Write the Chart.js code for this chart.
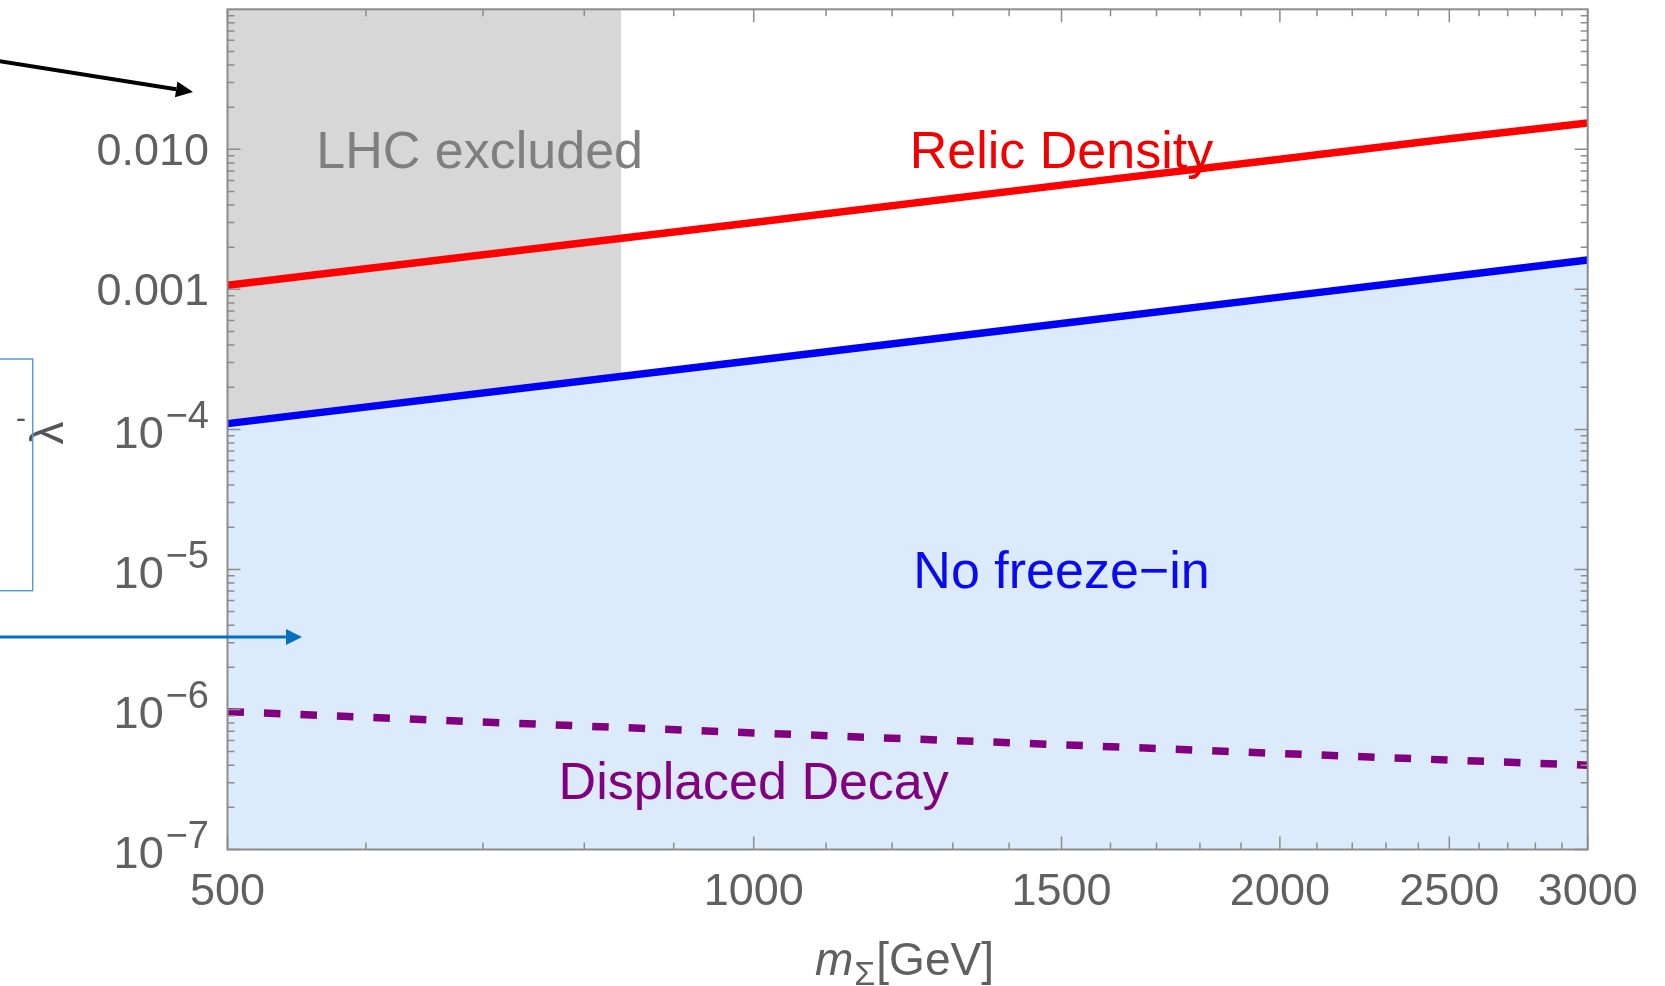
<!doctype html>
<html>
<head>
<meta charset="utf-8" />
<title>Freeze-in parameter space</title>
<script src="https://cdn.jsdelivr.net/npm/chart.js"></script>
<style>
  body { margin: 0; background: #fff; overflow: hidden; }
  #box { width: 1665px; height: 986px; }
</style>
</head>
<body>
<div id="box"><canvas id="plot"></canvas></div>
<script>
// masses in GeV and the coupling of each curve
const masses = [500, 1000, 1500, 2000, 2500, 3000];
const relicDensity = [1.07e-3, 3.0e-3, 5.55e-3, 8.5e-3, 1.19e-2, 1.54e-2];
const freezeInLimit = [1.1e-4, 3.1e-4, 5.7e-4, 8.8e-4, 1.23e-3, 1.62e-3];
const displacedDecay = [9.65e-7, 6.8e-7, 5.6e-7, 4.85e-7, 4.35e-7, 4.0e-7];
const lhcExcluded = [500, 840];

const xTicks = [500, 1000, 1500, 2000, 2500, 3000];
const yTicks = [1e-7, 1e-6, 1e-5, 1e-4, 1e-3, 1e-2];
const yTickLabels = ['10^−7', '10^−6', '10^−5', '10^−4', '0.001', '0.010'];

const FONT = '"Liberation Sans", Arial, sans-serif';
const pts = arr => masses.map((m, i) => ({ x: m, y: arr[i] }));

// Mathematica style frame: ticks inside on all four sides, labels outside
const frame = {
  id: 'frame',
  afterDatasetsDraw(chart) {
    const { ctx, chartArea: a, scales: { x, y } } = chart;
    ctx.save();
    ctx.strokeStyle = '#8c8c8c';
    ctx.lineWidth = 1.5;
    ctx.beginPath();
    const xt = (v, len) => {
      const p = x.getPixelForValue(v);
      ctx.moveTo(p, a.bottom); ctx.lineTo(p, a.bottom - len);
      ctx.moveTo(p, a.top); ctx.lineTo(p, a.top + len);
    };
    const yt = (v, len) => {
      const p = y.getPixelForValue(v);
      ctx.moveTo(a.left, p); ctx.lineTo(a.left + len, p);
      ctx.moveTo(a.right, p); ctx.lineTo(a.right - len, p);
    };
    for (let v = 600; v < 3000; v += 100) if (!xTicks.includes(v)) xt(v, 7);
    xTicks.forEach(v => xt(v, 13));
    for (let e = -7; e <= -2; e++) for (let k = 2; k <= 9; k++) yt(k * Math.pow(10, e), 7);
    yTicks.forEach(v => yt(v, 13));
    ctx.stroke();
    ctx.lineWidth = 2;
    ctx.strokeRect(a.left, a.top, a.right - a.left, a.bottom - a.top);

    // tick labels
    ctx.fillStyle = '#606060';
    ctx.textBaseline = 'alphabetic';
    ctx.font = '45px ' + FONT;
    ctx.textAlign = 'center';
    xTicks.forEach(v => ctx.fillText(String(v), x.getPixelForValue(v), 905));
    yTicks.forEach((v, i) => {
      const p = y.getPixelForValue(v);
      const lab = yTickLabels[i];
      const right = 209;
      ctx.textAlign = 'right';
      if (lab.includes('^')) {
        const [base, sup] = lab.split('^');
        ctx.font = '38px ' + FONT;
        const sw = ctx.measureText(sup).width;
        ctx.fillText(sup, right, p - 1.5);
        ctx.font = '45px ' + FONT;
        ctx.fillText(base, right - sw - 2, p + 18.5);
      } else {
        ctx.font = '45px ' + FONT;
        ctx.fillText(lab, right, p + 15.7);
      }
    });

    // region labels
    ctx.font = '52px ' + FONT;
    ctx.textAlign = 'center';
    const note = (txt, xv, yv, col) => {
      ctx.fillStyle = col;
      ctx.fillText(txt, x.getPixelForValue(xv), y.getPixelForValue(yv) + 18.6);
    };
    note('LHC excluded', 697, 1e-2, '#7f7f7f');
    note('Relic Density', 1500, 1e-2, '#f20000');
    note('No freeze−in', 1500, 1e-5, '#0a0af0');
    note('Displaced Decay', 1000, 3.1e-7, '#800080');
    ctx.restore();
  },
  afterDraw(chart) {
    const ctx = chart.ctx;
    ctx.save();
    // axis titles
    ctx.fillStyle = '#606060';
    ctx.textBaseline = 'alphabetic';
    ctx.textAlign = 'left';
    ctx.font = 'italic 46px ' + FONT;
    let cx = 815;
    ctx.fillText('m', cx, 975);
    cx += ctx.measureText('m').width + 1;
    ctx.font = '34px ' + FONT;
    ctx.fillText('Σ', cx, 985);
    cx += ctx.measureText('Σ').width + 1;
    ctx.font = '46px ' + FONT;
    ctx.fillText('[GeV]', cx, 975);

    ctx.save();
    ctx.translate(50, 433);
    ctx.rotate(-Math.PI / 2);
    ctx.textAlign = 'center';
    ctx.textBaseline = 'middle';
    ctx.font = '46px ' + FONT;
    ctx.fillStyle = '#555';
    ctx.fillText('λ', 0, 0);
    ctx.restore();

    // overlaid text box and arrows
    ctx.strokeStyle = '#5b9bd5';
    ctx.lineWidth = 1.5;
    ctx.strokeRect(-5, 359, 37.7, 231.7);
    ctx.fillStyle = '#555';
    ctx.font = '30px ' + FONT;
    ctx.textAlign = 'center';
    ctx.fillText('-', 21, 428);

    const arrow = (x0, y0, x1, y1, col, w, hl, hw) => {
      const ang = Math.atan2(y1 - y0, x1 - x0);
      const bx = x1 - hl * Math.cos(ang), by = y1 - hl * Math.sin(ang);
      ctx.strokeStyle = col; ctx.fillStyle = col; ctx.lineWidth = w;
      ctx.beginPath(); ctx.moveTo(x0, y0); ctx.lineTo(bx, by); ctx.stroke();
      ctx.beginPath();
      ctx.moveTo(x1, y1);
      ctx.lineTo(bx + hw * Math.sin(ang), by - hw * Math.cos(ang));
      ctx.lineTo(bx - hw * Math.sin(ang), by + hw * Math.cos(ang));
      ctx.closePath(); ctx.fill();
    };
    arrow(-2, 61, 193, 92, '#000', 4, 17, 8);
    arrow(-2, 637, 302, 637, '#0070c0', 3, 16, 8);
    ctx.restore();
  }
};

new Chart(document.getElementById('plot'), {
  type: 'line',
  data: {
    datasets: [
      {
        label: 'LHC excluded',
        data: lhcExcluded.map(m => ({ x: m, y: 0.1 })),
        borderWidth: 0,
        backgroundColor: '#d7d7d7',
        fill: 'start',
        pointRadius: 0,
        order: 10
      },
      {
        label: 'No freeze-in',
        data: pts(freezeInLimit),
        borderColor: '#0000f5',
        borderWidth: 7.5,
        backgroundColor: '#dcebfb',
        fill: 'start',
        pointRadius: 0,
        order: 5
      },
      {
        label: 'Relic Density',
        data: pts(relicDensity),
        borderColor: '#ff0000',
        borderWidth: 7.5,
        fill: false,
        pointRadius: 0,
        order: 1
      },
      {
        label: 'Displaced Decay',
        data: pts(displacedDecay),
        borderColor: '#800080',
        borderWidth: 7.5,
        borderDash: [16.5, 20],
        borderCapStyle: 'butt',
        fill: false,
        pointRadius: 0,
        order: 1
      }
    ]
  },
  options: {
    responsive: true,
    maintainAspectRatio: false,
    animation: false,
    layout: { padding: { left: 227.5, right: 77.3, top: 9.3, bottom: 136.5 } },
    scales: {
      x: { type: 'logarithmic', min: 500, max: 3000, display: false },
      y: { type: 'logarithmic', min: 1e-7, max: 0.1, display: false }
    },
    plugins: { legend: { display: false }, tooltip: { enabled: false } }
  },
  plugins: [frame]
});
</script>
</body>
</html>
